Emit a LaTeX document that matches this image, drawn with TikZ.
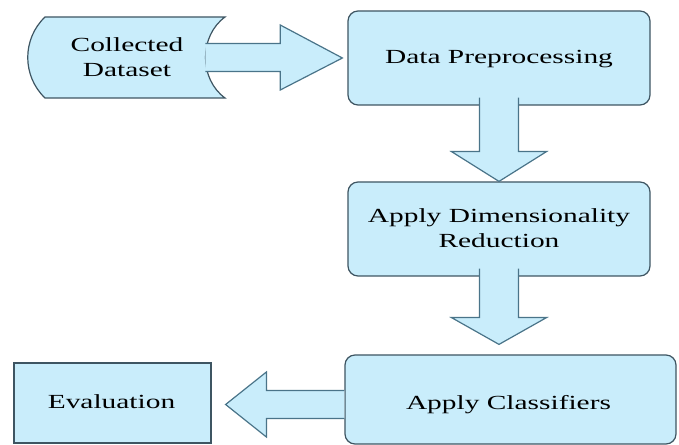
\documentclass[tikz,border=0pt]{standalone}
\usepackage{fontspec}
\setmainfont{Liberation Serif}
\usetikzlibrary{calc,fit}
\definecolor{boxfill}{HTML}{C9EDFB}
\definecolor{boxline}{HTML}{3E5562}
\definecolor{arrline}{HTML}{4A7489}
\newcommand\lbl[1]{\scalebox{1.47}[1]{\begin{tabular}{@{}c@{}}#1\end{tabular}}}
\tikzset{
  boxshape/.style={draw=boxline, fill=boxfill, line width=0.9pt, inner sep=0pt},
  roundbox/.style={boxshape, rounded corners=7.5pt},
  squarebox/.style={boxshape},
  textlbl/.style={inner sep=0pt, anchor=center, font=\fontsize{15}{18.75}\selectfont},
  blockfill/.style={fill=boxfill},
  blockline/.style={draw=arrline, line width=0.9pt, line join=miter},
}
\begin{document}
\begin{tikzpicture}[x=0.75pt,y=-0.75pt]
\useasboundingbox (0,0) rectangle (679,445);
% Collected dataset shape
\path[draw=boxline, fill=boxfill, line width=0.9pt]
  (45,17) -- (225,17) .. controls (199,36) and (199,79) .. (225,98)
  -- (45,98) .. controls (22,76) and (22,39) .. (45,17) -- cycle;
\node[draw=none, inner sep=0pt, fit={(27,17) (225,98)}] (cd) {};
\node[textlbl] (cdt) at ($(cd.center)+(1,1.5)$) {\lbl{Collected\\Dataset}};
% boxes
\node[roundbox, fit={(348,11) (650,105)}] (dp) {};
\node[textlbl] (dpt) at ($(dp.center)+(0,1)$) {\lbl{Data Preprocessing}};
\node[roundbox, fit={(348,182) (650,276)}] (dr) {};
\node[textlbl] (drt) at ($(dr.center)+(0,1)$) {\lbl{Apply Dimensionality\\Reduction}};
\node[roundbox, fit={(345,355) (676,444)}] (ac) {};
\node[textlbl] (act) at ($(ac.center)+(-2,5)$) {\lbl{Apply Classifiers}};
\node[squarebox, fit={(14,363) (211,443)}] (ev) {};
\node[textlbl] (evt) at ($(ev.center)+(-1,1)$) {\lbl{Evaluation}};
% arrow 1: dataset -> preprocessing
\coordinate (a1s) at ($(cd.east)+(-20,0)$);
\coordinate (a1t) at ($(dp.west)+(-5,0)$);
\path[blockfill] ($(a1s)+(0,-14)$) -- ($(a1s)+(75,-14)$) -- ($(a1s)+(75,-32.5)$) -- (a1t)
  -- ($(a1s)+(75,32.5)$) -- ($(a1s)+(75,14)$) -- ($(a1s)+(0,14)$) -- cycle;
\draw[blockline] ($(a1s)+(0,-14)$) -- ($(a1s)+(75,-14)$) -- ($(a1s)+(75,-32.5)$) -- (a1t)
  -- ($(a1s)+(75,32.5)$) -- ($(a1s)+(75,14)$) -- ($(a1s)+(0,14)$);
% arrow 2: preprocessing -> dimensionality reduction
\coordinate (a2s) at ($(dp.south)+(0,-8)$);
\coordinate (a2t) at (dr.north);
\path[blockfill] ($(a2s)+(-19.5,0)$) -- ($(a2s)+(-19.5,54)$) -- ($(a2s)+(-47.5,54)$) -- (a2t)
  -- ($(a2s)+(47.5,54)$) -- ($(a2s)+(19.5,54)$) -- ($(a2s)+(19.5,0)$) -- cycle;
\draw[blockline] ($(a2s)+(-19.5,0)$) -- ($(a2s)+(-19.5,54)$) -- ($(a2s)+(-47.5,54)$) -- (a2t)
  -- ($(a2s)+(47.5,54)$) -- ($(a2s)+(19.5,54)$) -- ($(a2s)+(19.5,0)$);
% arrow 3: dimensionality reduction -> classifiers
\coordinate (a3s) at ($(dr.south)+(0,-8)$);
\coordinate (a3t) at ($(ac.north)+(-11.5,-10)$);
\path[blockfill] ($(a3s)+(-19.5,0)$) -- ($(a3s)+(-19.5,49)$) -- ($(a3s)+(-47.5,49)$) -- (a3t)
  -- ($(a3s)+(47.5,49)$) -- ($(a3s)+(19.5,49)$) -- ($(a3s)+(19.5,0)$) -- cycle;
\draw[blockline] ($(a3s)+(-19.5,0)$) -- ($(a3s)+(-19.5,49)$) -- ($(a3s)+(-47.5,49)$) -- (a3t)
  -- ($(a3s)+(47.5,49)$) -- ($(a3s)+(19.5,49)$) -- ($(a3s)+(19.5,0)$);
% arrow 4: classifiers -> evaluation
\coordinate (a4s) at ($(ac.west)+(0,5)$);
\coordinate (a4t) at ($(ev.east)+(14,1.5)$);
\path[blockfill] ($(a4s)+(0,-14)$) -- ($(a4s)+(-78,-14)$) -- ($(a4s)+(-78,-32.5)$) -- (a4t)
  -- ($(a4s)+(-78,32.5)$) -- ($(a4s)+(-78,14)$) -- ($(a4s)+(0,14)$) -- cycle;
\draw[blockline] ($(a4s)+(0,-14)$) -- ($(a4s)+(-78,-14)$) -- ($(a4s)+(-78,-32.5)$) -- (a4t)
  -- ($(a4s)+(-78,32.5)$) -- ($(a4s)+(-78,14)$) -- ($(a4s)+(0,14)$);
\end{tikzpicture}
\end{document}
